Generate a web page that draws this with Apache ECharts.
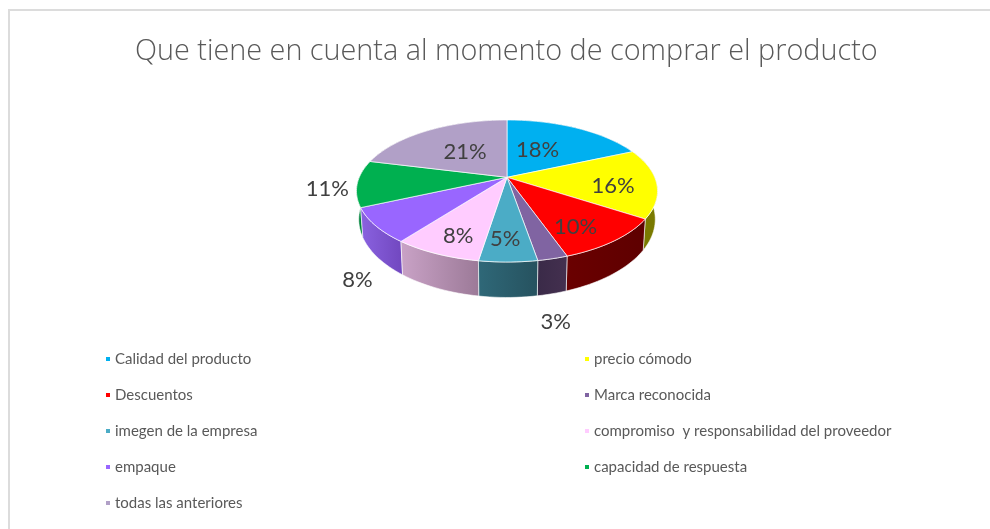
<!DOCTYPE html>
<html>
<head>
<meta charset="utf-8">
<style>
  html, body { margin: 0; padding: 0; background: #fff; }
  #chart { width: 990px; height: 529px; }
</style>
</head>
<body>
<div id="chart"></div>
<script src="https://cdn.jsdelivr.net/npm/echarts@6/dist/echarts.min.js"></script>
<script>
const categories = ['Calidad del producto', 'precio cómodo', 'Descuentos', 'Marca reconocida', 'imegen de la empresa',
  'compromiso  y responsabilidad del proveedor', 'empaque', 'capacidad de respuesta', 'todas las anteriores'];
// shares, the labels print them rounded
const values = [18.4, 15.8, 10.4, 2.7, 5.2, 7.9, 7.9, 10.6, 21.1];

const topColors = ['#00b0f0', '#ffff00', '#ff0000', '#8064a2', '#4bacc6', '#ffccff', '#9966ff', '#00b050', '#b1a0c7'];
// wall shading, left and right end of each slice
const wallColors = [['#005878', '#005878'], ['#6e6e00', '#7a7a00'], ['#6a0000', '#5e0000'], ['#3a2a48', '#44304f'],
  ['#2f6878', '#26525f'], ['#c9a2c6', '#9c7a98'], ['#8a62e0', '#7248c0'], ['#00843c', '#00843c'], ['#6a5a80', '#6a5a80']];
// label offset from the rim point at the middle of each slice
const labelOffsets = [[-39, 22], [-43.5, 3], [-39, -14], [3, 63.5], [-3, -23], [22, -18], [-18, 54.5], [-30, 5], [37, 21.5]];

const cx = 507, cy = 177.3;
const total = values.reduce((a, b) => a + b, 0);

// pie plane seen in perspective, u to the right and v towards the viewer
function project(theta) {
  const u = Math.sin(theta), v = -Math.cos(theta);
  const den = 1 - 0.193 * v;
  return [cx + 147.7 * u / den, cy + 68.36 * v / den];
}
function lower(p) {
  return [cx + 0.985 * (p[0] - cx), cy + 27 + 1.1 * (p[1] - cy)];
}

function sliceAngles(i) {
  const before = values.slice(0, i).reduce((a, b) => a + b, 0);
  return [before / total * Math.PI * 2, (before + values[i]) / total * Math.PI * 2];
}

function renderSlice(i) {
  const [a0, a1] = sliceAngles(i);
  const rim = [];
  const steps = Math.max(4, Math.ceil((a1 - a0) / 0.03));
  for (let s = 0; s <= steps; s++) rim.push(project(a0 + (a1 - a0) * s / steps));
  const bottom = rim.map(lower).reverse();
  const p0 = rim[0], p1 = rim[rim.length - 1];
  // walls run left to right on screen, so order the gradient that way
  const leftX = Math.min(p0[0], p1[0]), rightX = Math.max(p0[0], p1[0]);
  const mid = project((a0 + a1) / 2);
  const off = labelOffsets[i];
  return {
    type: 'group',
    children: [
      {
        type: 'polygon',
        z2: 1 + Math.round(mid[1] / 10),
        shape: { points: rim.concat(bottom) },
        style: {
          fill: new echarts.graphic.LinearGradient(leftX, 0, rightX, 0, [
            { offset: 0, color: wallColors[i][0] },
            { offset: 1, color: wallColors[i][1] }
          ], true),
          stroke: 'rgba(255,255,255,0.75)',
          lineWidth: 0.8
        }
      },
      {
        type: 'polygon',
        z2: 100,
        shape: { points: [[cx, cy]].concat(rim) },
        style: { fill: topColors[i], stroke: 'rgba(255,255,255,0.85)', lineWidth: 0.8 }
      },
      {
        type: 'text',
        z2: 200,
        x: mid[0] + off[0],
        y: mid[1] + off[1],
        style: {
          text: Math.round(values[i]) + '%',
          fill: '#404040',
          font: '22px Lato, "Open Sans", sans-serif',
          align: 'center',
          verticalAlign: 'middle'
        }
      }
    ]
  };
}

const legendBase = {
  orient: 'vertical',
  itemWidth: 4,
  itemHeight: 4,
  itemGap: 18,
  icon: 'rect',
  selectedMode: false,
  padding: 0,
  textStyle: { color: '#595959', fontSize: 15, fontFamily: 'Lato, "Open Sans", sans-serif', lineHeight: 18 }
};

const chart = echarts.init(document.getElementById('chart'));
chart.setOption({
  animation: false,
  backgroundColor: '#fff',
  title: {
    text: 'Que tiene en cuenta al momento de comprar el producto',
    left: 130,
    top: 32,
    textStyle: { color: '#595959', fontSize: 28.8, fontWeight: 300, fontFamily: '"Open Sans", sans-serif' }
  },
  legend: [
    Object.assign({}, legendBase, { left: 106, top: 350, data: categories.filter((c, i) => i % 2 === 0) }),
    Object.assign({}, legendBase, { left: 585, top: 350, data: categories.filter((c, i) => i % 2 === 1) })
  ],
  graphic: [{
    type: 'polyline',
    silent: true,
    shape: { points: [[9, 529], [9, 10], [990, 10]] },
    style: { fill: 'none', stroke: '#dcdcdc', lineWidth: 2 }
  }],
  series: categories.map((name, i) => ({
    type: 'custom',
    name: name,
    coordinateSystem: 'none',
    itemStyle: { color: topColors[i] },
    data: [values[i]],
    renderItem: () => renderSlice(i)
  }))
});
</script>
</body>
</html>
